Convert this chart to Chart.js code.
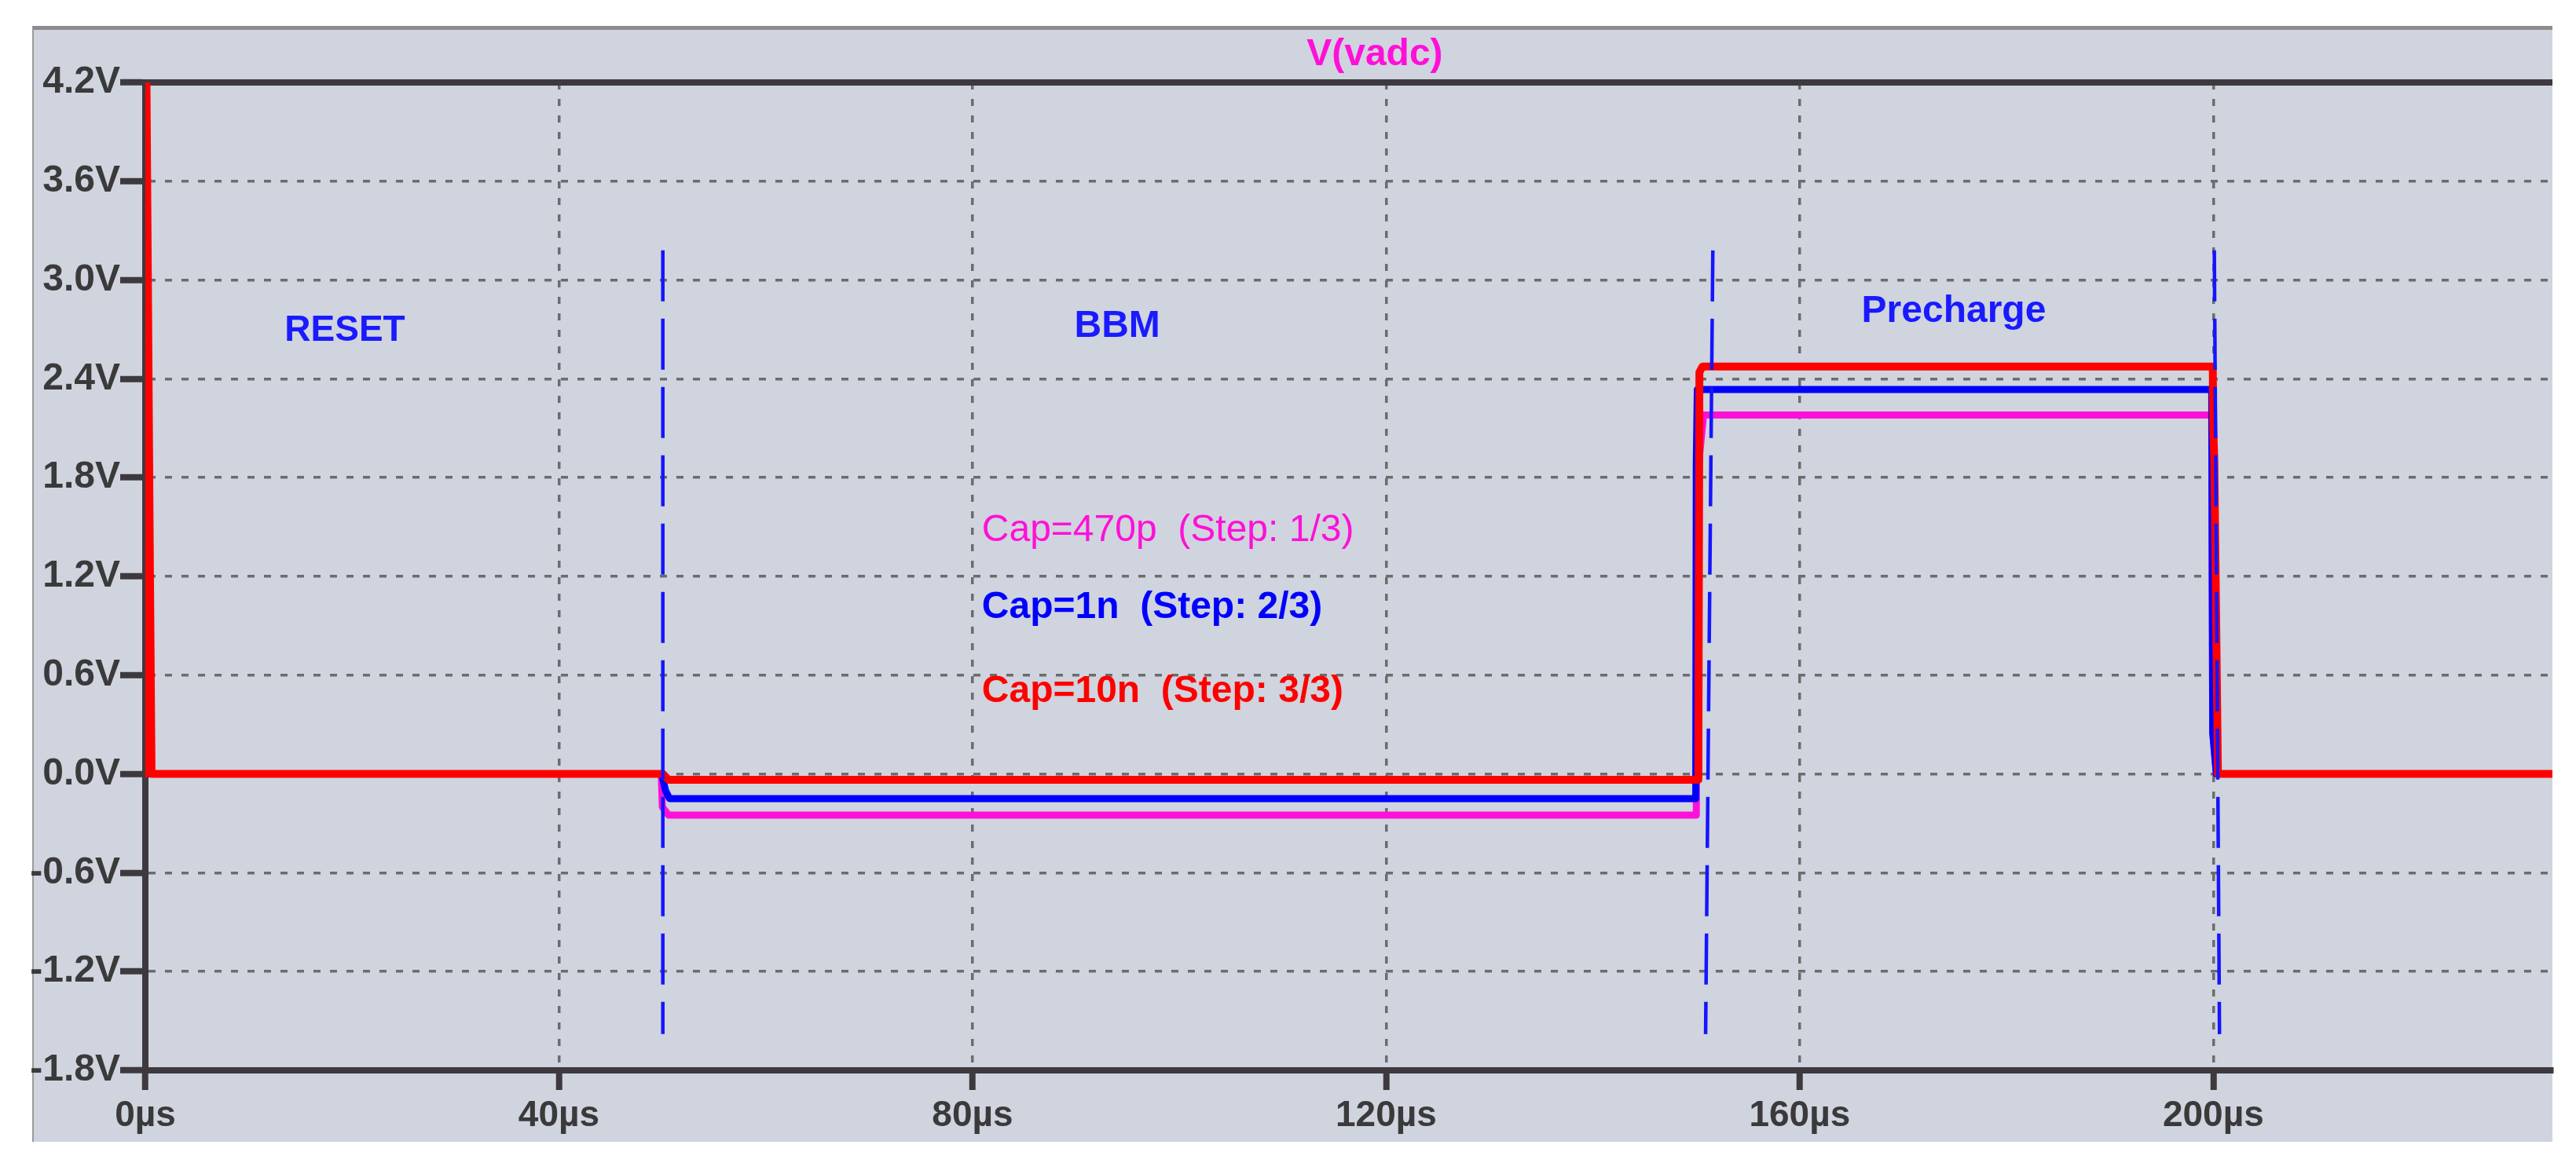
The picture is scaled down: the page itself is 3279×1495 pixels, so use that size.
<!DOCTYPE html>
<html><head><meta charset="utf-8">
<script src="https://cdn.jsdelivr.net/npm/chart.js@4.4.1/dist/chart.umd.min.js"></script>
<style>
html,body{margin:0;padding:0;background:#fff;}
#panel{position:absolute;left:41px;top:33px;width:3208px;height:1421px;background:#cfd4de;border-top:5px solid #8c8c8c;border-left:2px solid #9a9a9a;box-sizing:border-box;}
#c{position:absolute;left:0;top:0;}
</style></head><body>
<div id="panel"></div>
<canvas id="c" width="3279" height="1495"></canvas>
<script>
// ---- data ----
const xTicks = [0, 40, 80, 120, 160, 200];
const xTickLabels = ['0µs', '40µs', '80µs', '120µs', '160µs', '200µs'];
const yTicks = [-1.8, -1.2, -0.6, 0, 0.6, 1.2, 1.8, 2.4, 3.0, 3.6, 4.2];
const yTickLabels = ['-1.8V', '-1.2V', '-0.6V', '0.0V', '0.6V', '1.2V', '1.8V', '2.4V', '3.0V', '3.6V', '4.2V'];
const stepNames = ['Cap=470p', 'Cap=1n', 'Cap=10n'];
const stepTags = ['(Step: 1/3)', '(Step: 2/3)', '(Step: 3/3)'];

// Cap=470p (step 1)
const t470p = [0, 0.03, 0.25, 49.9, 50.0, 50.6, 150.0, 150.1, 150.7, 199.85, 199.95, 200.3, 232.8];
const v470p = [0, 0.9, 0, 0, -0.2, -0.25, -0.25, 1.8, 2.18, 2.18, 0.25, 0, 0];
// Cap=1n (step 2)
const t1n = [0, 0.03, 0.25, 49.95, 50.3, 50.7, 149.95, 150.0, 150.1, 199.85, 199.95, 200.3, 232.8];
const v1n = [0, 1.16, 0, 0, -0.1, -0.15, -0.15, 1.88, 2.335, 2.335, 0.25, 0, 0];
// Cap=10n (step 3)
const t10n = [0, 0.1, 0.45, 0.6, 50.05, 50.6, 150.2, 150.3, 150.6, 199.95, 200.0, 200.1, 200.45, 232.8];
const v10n = [0, 4.3, 1.2, 0, 0, -0.035, -0.035, 2.44, 2.475, 2.475, 2.1, 1.9, 0, 0];

// phase marker lines (dashed blue): time at top, time at bottom
const markerTimes = [[50.05, 50.05], [151.6, 150.9], [200.1, 200.6]];
const markerVolts = [3.18, -1.58];

// ---- styles ----
const FONT = "'Liberation Sans', Arial, sans-serif";
const GRID = '#6c6c6c', AXIS = '#3e393f', TXT = '#3a3a3a';
const COLORS = ['#ff10d8', '#0000ff', '#ff0000'];
const CLEAR = 'rgba(0,0,0,0)';

function pts(t, v) { return t.map((x, i) => ({ x: x, y: v[i] })); }

const notes = [
  { text: 'V(vadc)', t: 118.9, v: 4.37, color: COLORS[0], weight: 'bold', size: 48, align: 'center' },
  { text: 'RESET', t: 19.3, v: 2.69, color: '#1a1aff', weight: 'bold', size: 46, align: 'center' },
  { text: 'BBM', t: 94.0, v: 2.72, color: '#1a1aff', weight: 'bold', size: 48, align: 'center' },
  { text: 'Precharge', t: 174.9, v: 2.81, color: '#1a1aff', weight: 'bold', size: 48, align: 'center' },
  { text: stepNames[0] + '  ' + stepTags[0], t: 80.9, v: 1.48, color: COLORS[0], weight: 'normal', size: 48, align: 'left' },
  { text: stepNames[1] + '  ' + stepTags[1], t: 80.9, v: 1.01, color: COLORS[1], weight: 'bold', size: 48, align: 'left' },
  { text: stepNames[2] + '  ' + stepTags[2], t: 80.9, v: 0.50, color: COLORS[2], weight: 'bold', size: 48, align: 'left' }
];

const topLine = {
  id: 'topLine',
  beforeDatasetsDraw(chart) {
    const { ctx, chartArea: a, scales: { y } } = chart;
    const py = y.getPixelForValue(y.max);
    ctx.save();
    ctx.strokeStyle = AXIS; ctx.lineWidth = 8;
    ctx.beginPath(); ctx.moveTo(a.left - 4, py); ctx.lineTo(a.right, py); ctx.stroke();
    ctx.restore();
  }
};
const noteText = {
  id: 'noteText',
  afterDatasetsDraw(chart) {
    const { ctx, scales: { x, y } } = chart;
    ctx.save();
    ctx.textBaseline = 'middle';
    notes.forEach(n => {
      ctx.font = n.weight + ' ' + n.size + 'px ' + FONT;
      ctx.fillStyle = n.color;
      ctx.textAlign = n.align;
      ctx.fillText(n.text, x.getPixelForValue(n.t), y.getPixelForValue(n.v));
    });
    ctx.restore();
  }
};

const traceBase = { pointRadius: 0, fill: false, tension: 0, borderJoinStyle: 'round', borderCapStyle: 'round' };
const datasets = [];
markerTimes.forEach(m => datasets.push({
  data: pts(m, markerVolts), borderColor: '#1515ff', borderWidth: 4.5, borderDash: [65, 22],
  pointRadius: 0, fill: false, tension: 0, order: 0, borderCapStyle: 'butt'
}));
datasets.push(Object.assign({ data: pts(t10n, v10n), borderColor: COLORS[2], borderWidth: 10, order: 1 }, traceBase));
datasets.push(Object.assign({ data: pts(t1n, v1n), borderColor: COLORS[1], borderWidth: 9, order: 2 }, traceBase));
datasets.push(Object.assign({ data: pts(t470p, v470p), borderColor: COLORS[0], borderWidth: 9, order: 3 }, traceBase));

new Chart(document.getElementById('c'), {
  type: 'line',
  data: { datasets: datasets },
  options: {
    responsive: false, animation: false, events: [],
    layout: { padding: { top: 105, right: 30, bottom: 0, left: 0 } },
    plugins: { legend: { display: false }, tooltip: { enabled: false }, title: { display: false } },
    scales: {
      x: {
        type: 'linear', min: 0, max: 232.8,
        afterBuildTicks: s => { s.ticks = xTicks.map(v => ({ value: v })); },
        afterFit: s => { s.height = 132; },
        ticks: { autoSkip: false, maxRotation: 0, padding: 6, color: TXT, font: { family: FONT, size: 46, weight: 'bold' },
          callback: (v, i) => xTickLabels[i] },
        grid: { color: c => (c.tick && c.tick.value === 0) ? CLEAR : GRID, lineWidth: 3.5,
          tickLength: 25, tickWidth: 8, tickColor: AXIS },
        border: { display: true, color: AXIS, width: 8, dash: [9, 12] }
      },
      y: {
        type: 'linear', min: -1.8, max: 4.2,
        afterBuildTicks: s => { s.ticks = yTicks.map(v => ({ value: v })); },
        afterFit: s => { s.width = 185; },
        ticks: { padding: 0, color: TXT, font: { family: FONT, size: 48, weight: 'bold' },
          callback: (v, i) => yTickLabels[i] },
        grid: { color: c => (c.tick && (c.tick.value === 4.2 || c.tick.value === -1.8)) ? CLEAR : GRID, lineWidth: 3.5,
          tickLength: 32, tickWidth: 8, tickColor: AXIS },
        border: { display: true, color: AXIS, width: 8, dash: [9, 12] }
      }
    }
  },
  plugins: [topLine, noteText]
});
</script>
</body></html>
